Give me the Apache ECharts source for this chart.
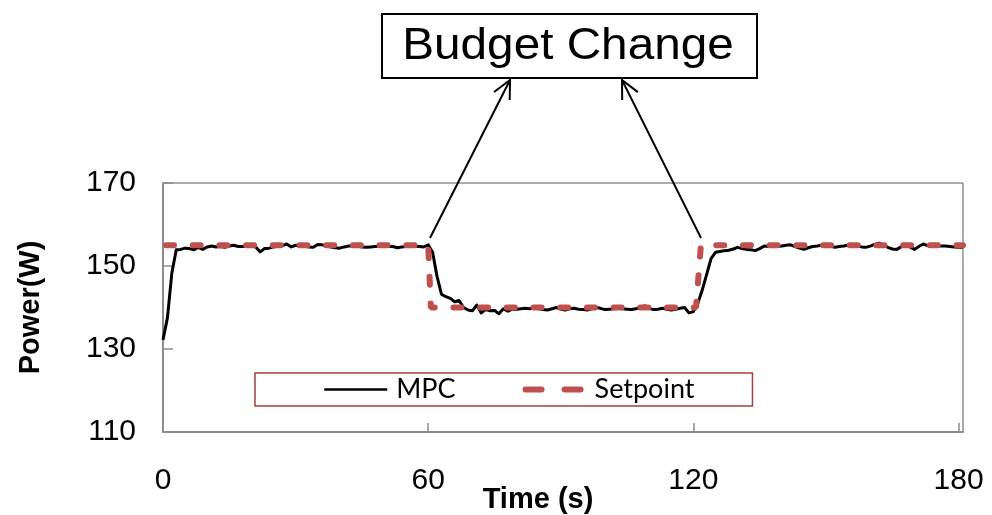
<!DOCTYPE html>
<html>
<head>
<meta charset="utf-8">
<script src="https://cdn.jsdelivr.net/npm/echarts@6/dist/echarts.min.js"></script>
<style>
  html, body { margin: 0; padding: 0; background: #fff; }
  #chart { width: 992px; height: 515px; }
</style>
</head>
<body>
<div id="chart"></div>
<script>
// Measured power (W) of the MPC controller, one sample per second from t = 0 s
const mpcPower = [
  132.2, 137.5, 148.3, 153.9, 154.0, 154.3, 154.2, 153.9, 154.5, 154.0,
  154.6, 154.8, 154.6, 154.7, 154.5, 154.8, 155.0, 154.7, 154.7, 154.8,
  154.8, 154.6, 153.4, 154.2, 154.3, 154.6, 154.8, 154.9, 155.3, 154.6,
  155.0, 154.8, 154.8, 154.6, 154.5, 155.2, 155.1, 154.8, 154.6, 154.4,
  154.3, 154.6, 154.8, 154.8, 154.8, 154.6, 154.5, 154.6, 154.7, 154.8,
  154.8, 154.7, 154.7, 154.4, 154.6, 154.7, 154.8, 154.8, 154.7, 154.6,
  155.1, 153.3, 147.5, 143.2, 142.6, 142.2, 141.4, 141.7, 140.0, 139.4,
  139.2, 140.6, 138.7, 139.5, 139.2, 139.3, 138.5, 139.7, 139.1, 139.6,
  139.6, 139.7, 139.8, 139.7, 140.0, 139.7, 139.5, 139.4, 139.7, 140.0,
  139.6, 139.4, 139.7, 139.8, 139.6, 139.5, 139.4, 139.7, 140.0, 139.8,
  139.5, 139.6, 139.7, 139.8, 139.7, 139.6, 139.5, 139.7, 140.0, 140.4,
  139.8, 139.5, 139.6, 139.8, 139.6, 139.4, 139.6, 139.8, 140.0, 138.7,
  139.0, 141.0, 144.2, 148.0, 151.8, 153.3, 153.5, 153.7, 153.8, 154.1,
  154.5, 154.2, 154.0, 153.9, 153.7, 154.2, 154.8, 154.7, 154.8, 154.7,
  154.8, 155.0, 155.1, 154.7, 154.3, 154.0, 154.4, 154.7, 154.8, 155.0,
  155.1, 154.8, 154.5, 154.7, 154.8, 155.0, 155.1, 154.9, 154.6, 154.5,
  154.8, 155.2, 155.5, 155.0, 154.5, 154.1, 154.0, 154.6, 155.1, 154.6,
  154.0, 154.7, 155.3, 154.9, 154.7, 154.8, 154.8, 154.8, 154.7, 154.6,
  154.5, 154.5
];

// Power budget setpoint: breakpoints (s) and levels (W)
const setpointTime = [0, 60, 60.6, 120.6, 121.7, 181];
const setpointPower = [155, 155, 140, 140, 155, 155];

// Tick labels on both axes
const timeTicks = [0, 60, 120, 180];
const powerTicks = [110, 130, 150, 170];

const mpcData = mpcPower.map((v, i) => [i, v]);
const setpointData = setpointTime.map((t, i) => [t, setpointPower[i]]);

const AXIS_GREY = '#8c8c8c';
const SET_RED = '#C0504D';

const chart = echarts.init(document.getElementById('chart'), null, { renderer: 'canvas' });

// Arrow from a base point to a tip, with an open V head
function arrow(x1, y1, x2, y2) {
  const dx = x2 - x1, dy = y2 - y1;
  const len = Math.hypot(dx, dy);
  const ux = dx / len, uy = dy / len;
  const headLen = 20, ang = 26 * Math.PI / 180;
  const cos = Math.cos(ang), sin = Math.sin(ang);
  const ax = -ux, ay = -uy;
  const h1 = [x2 + headLen * (ax * cos - ay * sin), y2 + headLen * (ax * sin + ay * cos)];
  const h2 = [x2 + headLen * (ax * cos + ay * sin), y2 + headLen * (-ax * sin + ay * cos)];
  const style = { stroke: '#000', lineWidth: 2, fill: null };
  return [
    { type: 'polyline', shape: { points: [[x1, y1], [x2, y2]] }, style, z: 100 },
    { type: 'polyline', shape: { points: [h1, [x2, y2], h2] }, style, z: 100 }
  ];
}

chart.setOption({
  animation: false,
  backgroundColor: '#fff',
  grid: {
    left: 163, right: 29, top: 183, bottom: 83,
    outerBoundsMode: 'none',
    containLabel: false,
    show: true, borderColor: '#595959', borderWidth: 1
  },
  xAxis: {
    type: 'value',
    min: 0, max: 181, interval: 60,
    name: 'Time (s)',
    nameLocation: 'middle',
    nameGap: 53,
    nameMoveOverlap: false,
    nameTextStyle: {
      fontFamily: 'Liberation Sans', fontWeight: 'bold', fontSize: 29, color: '#000',
      padding: [0, 50, 0, 0]
    },
    axisLine: { show: true, onZero: false, lineStyle: { color: AXIS_GREY, width: 2 } },
    axisTick: { show: true, inside: true, length: 9, customValues: timeTicks, lineStyle: { color: AXIS_GREY, width: 1.5 } },
    axisLabel: {
      customValues: timeTicks,
      fontFamily: 'Liberation Sans', fontSize: 30, color: '#000', margin: 34
    },
    splitLine: { show: false }
  },
  yAxis: {
    type: 'value',
    min: 110, max: 170, interval: 20,
    name: 'Power(W)',
    nameLocation: 'middle',
    nameRotate: 90,
    nameGap: 118,
    nameMoveOverlap: false,
    nameTextStyle: { fontFamily: 'Liberation Sans', fontWeight: 'bold', fontSize: 29, color: '#000' },
    axisLine: { show: true, lineStyle: { color: AXIS_GREY, width: 2 } },
    axisTick: { show: true, inside: true, length: 10, lineStyle: { color: AXIS_GREY, width: 1.5 } },
    axisLabel: {
      customValues: powerTicks,
      fontFamily: 'Liberation Sans', fontSize: 30, color: '#000', margin: 27
    },
    splitLine: { show: false }
  },
  legend: {
    left: 255, top: 373,
    padding: [3, 58, 3, 68],
    borderColor: '#A0413E', borderWidth: 1.5,
    itemWidth: 63, itemHeight: 12, itemGap: 64,
    textStyle: { fontFamily: 'Lato', fontSize: 27, color: '#000', padding: [0, 0, 0, 4] },
    data: [
      { name: 'MPC', itemStyle: { opacity: 0 }, lineStyle: { color: '#000', width: 2.5 } },
      {
        name: 'Setpoint', itemStyle: { opacity: 0 },
        lineStyle: { color: SET_RED, width: 6, type: [16, 23], cap: 'round', dashOffset: -3 }
      }
    ]
  },
  series: [
    {
      name: 'MPC',
      type: 'line',
      data: mpcData,
      symbol: 'none',
      lineStyle: { color: '#000', width: 3, join: 'round' },
      itemStyle: { color: '#000' },
      z: 2
    },
    {
      name: 'Setpoint',
      type: 'line',
      data: setpointData,
      symbol: 'none',
      lineStyle: { color: SET_RED, width: 6, type: [8, 18.7], cap: 'round', dashOffset: -3 },
      itemStyle: { color: SET_RED },
      z: 3
    }
  ],
  graphic: [
    {
      type: 'rect',
      shape: { x: 382, y: 14, width: 375, height: 64 },
      style: { fill: '#fff', stroke: '#000', lineWidth: 2 },
      z: 100
    },
    {
      type: 'text',
      x: 568, y: 47,
      scaleX: 1.06,
      style: {
        text: 'Budget Change', fill: '#000',
        font: '45px "Liberation Sans", Arial, sans-serif',
        align: 'center', verticalAlign: 'middle'
      },
      z: 101
    },
    ...arrow(430, 238, 510, 80),
    ...arrow(701, 238, 622, 80)
  ]
});
</script>
</body>
</html>
